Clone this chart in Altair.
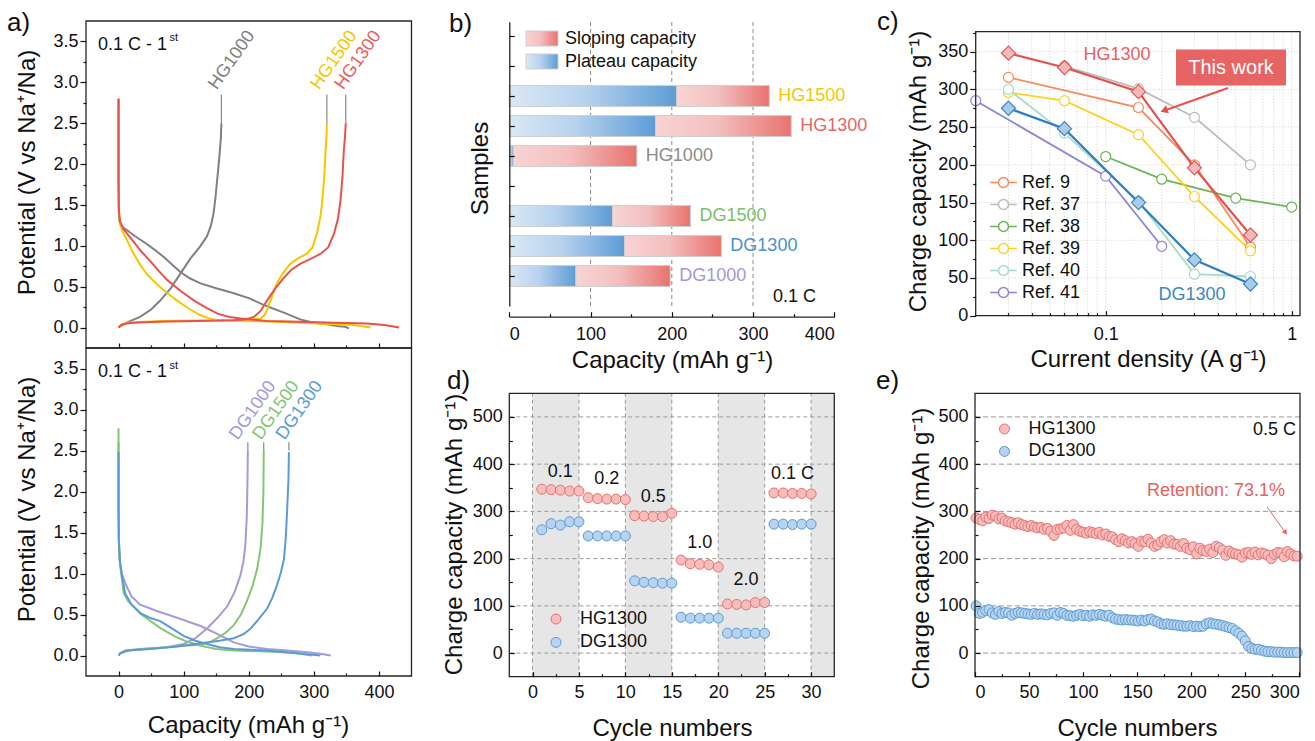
import altair as alt
import pandas as pd

W, H = 1315, 741
FONT = "Liberation Sans"
INK = "#111111"
FRAME = "#262626"

RED = "#e8514c"
YELLOW = "#f7c600"
GREY = "#808080"
BLUE = "#5b9bd5"
GREEN = "#84c674"
LAV = "#a39cdb"

# ---------------- Panel a: first-cycle profiles (capacity mAh/g, potential V) ----------------
hg1000_dis_cap = [0, 0, 0.5, 2, 6, 13, 25, 40, 54, 70, 85, 95, 110, 126, 150, 177, 200, 228, 255, 279, 300, 320, 335, 348, 354]
hg1000_dis_v = [2.8, 1.8, 1.4, 1.28, 1.23, 1.19, 1.12, 1.04, 0.96, 0.86, 0.75, 0.68, 0.6, 0.54, 0.48, 0.42, 0.36, 0.26, 0.18, 0.1, 0.06, 0.04, 0.02, 0.01, -0.01]
hg1000_chg_cap = [0, 5, 15, 33, 50, 64, 80, 95, 110, 126, 136, 142, 146, 149, 152, 155, 157, 158]
hg1000_chg_v = [0, 0.03, 0.07, 0.13, 0.22, 0.33, 0.48, 0.66, 0.84, 1.0, 1.12, 1.25, 1.4, 1.6, 1.85, 2.1, 2.3, 2.5]

hg1500_dis_cap = [0, 0, 0.5, 2, 6, 13, 22, 33, 45, 59, 75, 90, 108, 126, 140, 151, 177, 228, 279, 331, 360, 387]
hg1500_dis_v = [2.8, 1.8, 1.4, 1.28, 1.18, 1.07, 0.92, 0.77, 0.64, 0.53, 0.42, 0.33, 0.23, 0.15, 0.11, 0.09, 0.085, 0.075, 0.06, 0.04, 0.03, 0.0]
hg1500_chg_cap = [0, 4, 13, 40, 69, 120, 177, 205, 218, 224, 228, 235, 243, 252, 264, 276, 289, 298, 305, 310, 313, 316, 318, 319.5, 320]
hg1500_chg_v = [0, 0.04, 0.06, 0.07, 0.08, 0.085, 0.09, 0.1, 0.11, 0.15, 0.21, 0.36, 0.54, 0.66, 0.78, 0.85, 0.9, 0.98, 1.16, 1.35, 1.55, 1.85, 2.16, 2.35, 2.5]

hg1300_dis_cap = [0, 0, 0.5, 2, 8, 23, 35, 49, 62, 75, 95, 116, 135, 152, 170, 188, 228, 280, 331, 382, 408, 420, 431]
hg1300_dis_v = [2.8, 1.8, 1.45, 1.3, 1.2, 1.05, 0.93, 0.81, 0.69, 0.58, 0.45, 0.33, 0.24, 0.17, 0.13, 0.11, 0.08, 0.07, 0.06, 0.05, 0.03, 0.015, 0.0]
hg1300_chg_cap = [0, 4, 12, 23, 60, 120, 177, 195, 208, 218, 228, 240, 254, 266, 279, 295, 310, 322, 331, 337, 341, 344, 346, 348, 349]
hg1300_chg_v = [0, 0.03, 0.05, 0.06, 0.07, 0.08, 0.09, 0.1, 0.13, 0.2, 0.33, 0.47, 0.61, 0.71, 0.78, 0.84, 0.9, 0.98, 1.15, 1.33, 1.56, 1.85, 2.16, 2.35, 2.5]

dg1000_dis_cap = [0, 0, 0.5, 2, 5, 12, 20, 33, 60, 90, 126, 150, 177, 200, 228, 260, 290, 310, 326]
dg1000_dis_v = [2.6, 1.8, 1.4, 1.15, 1.0, 0.85, 0.72, 0.62, 0.54, 0.46, 0.36, 0.27, 0.16, 0.11, 0.08, 0.06, 0.04, 0.02, 0.0]
dg1000_chg_cap = [0, 3, 10, 33, 74, 100, 118, 136, 152, 167, 178, 187, 192, 195, 197, 198, 198.6]
dg1000_chg_v = [0, 0.03, 0.06, 0.08, 0.1, 0.14, 0.21, 0.33, 0.46, 0.6, 0.77, 0.97, 1.15, 1.37, 1.7, 2.1, 2.5]

dg1500_dis_cap = [0, 0, 0.5, 2, 4, 8, 15, 23, 35, 49, 65, 85, 105, 126, 150, 177, 228, 270, 297]
dg1500_dis_v = [2.77, 1.8, 1.4, 1.15, 1.0, 0.76, 0.66, 0.6, 0.5, 0.42, 0.33, 0.24, 0.17, 0.12, 0.08, 0.06, 0.05, 0.03, 0.0]
dg1500_chg_cap = [0, 3, 13, 40, 74, 100, 126, 140, 151, 165, 177, 188, 197, 206, 213, 218, 221, 222.5, 223]
dg1500_chg_v = [0, 0.03, 0.06, 0.08, 0.1, 0.12, 0.13, 0.16, 0.21, 0.28, 0.37, 0.5, 0.66, 0.85, 1.06, 1.3, 1.6, 2.0, 2.5]

dg1300_dis_cap = [0, 0, 0.5, 2, 4, 10, 20, 33, 48, 64, 80, 100, 118, 136, 155, 177, 228, 270, 310]
dg1300_dis_v = [2.48, 1.8, 1.4, 1.15, 1.04, 0.76, 0.62, 0.52, 0.46, 0.42, 0.34, 0.24, 0.18, 0.14, 0.1, 0.08, 0.06, 0.03, 0.0]
dg1300_chg_cap = [0, 3, 15, 49, 90, 126, 155, 177, 192, 203, 215, 228, 236, 243, 249, 254, 257, 259, 261, 261.7]
dg1300_chg_v = [0, 0.03, 0.06, 0.08, 0.11, 0.15, 0.18, 0.21, 0.26, 0.33, 0.44, 0.57, 0.7, 0.85, 1.0, 1.17, 1.45, 1.78, 2.15, 2.48]

a_top_names = ["HG1000", "HG1500", "HG1300"]
a_top_colors = [GREY, YELLOW, "#e8615d"]
a_top_text_cap = [151, 308, 345]
a_bot_names = ["DG1000", "DG1500", "DG1300"]
a_bot_colors = [LAV, GREEN, BLUE]
a_bot_text_cap = [183, 219, 255]

# ---------------- Panel b: capacity split ----------------
b_samples = ["HG1500", "HG1300", "HG1000", "DG1500", "DG1300", "DG1000"]
b_pos = [7, 6, 5, 3, 2, 1]
b_plateau = [206, 180, 5, 127, 142, 82]
b_total = [320, 347, 157, 223, 261, 198]
b_colors = ["#f7c600", "#ec6464", "#8c8c8c", "#7dbf6a", "#4a90d0", "#a09ad8"]

# ---------------- Panel c: rate comparison ----------------
c_rates = [0.03, 0.06, 0.15, 0.3, 0.6]
c_hg1300 = [348, 329, 297, 196, 107]
c_dg1300 = [275, 248, 150, 74, 42]
ref_names = ["Ref. 9", "Ref. 37", "Ref. 38", "Ref. 39", "Ref. 40", "Ref. 41"]
ref_colors = ["#f58a5f", "#bdbdbd", "#6cb552", "#ffd21f", "#a6dcc3", "#8f85d6"]
ref9_x = [0.03, 0.15, 0.3, 0.6]
ref9_y = [316, 276, 200, 91]
ref37_x = [0.06, 0.15, 0.3, 0.6]
ref37_y = [331, 301, 263, 200]
ref38_x = [0.1, 0.2, 0.5, 1.0]
ref38_y = [211, 181, 156, 144]
ref39_x = [0.03, 0.06, 0.15, 0.3, 0.6]
ref39_y = [296, 285, 240, 158, 86]
ref40_x = [0.03, 0.06, 0.15, 0.3, 0.6]
ref40_y = [300, 242, 152, 55, 52]
ref41_x = [0.02, 0.1, 0.2]
ref41_y = [285, 185, 92]

# ---------------- Panel d: rate capability ----------------
d_cycles = list(range(1, 31))
d_hg1300 = [347, 346, 345, 343, 343, 329, 327, 326, 326, 325,
            291, 290, 289, 289, 296, 197, 189, 188, 187, 182,
            104, 103, 102, 107, 107, 339, 339, 338, 338, 337]
d_dg1300 = [261, 274, 271, 278, 278, 248, 248, 248, 248, 248,
            153, 150, 149, 148, 148, 76, 74, 74, 74, 74,
            42, 42, 42, 42, 42, 273, 273, 272, 273, 273]
d_rate_labels = ["0.1", "0.2", "0.5", "1.0", "2.0", "0.1 C"]

# ---------------- Panel e: cycling at 0.5 C ----------------
e_cycles = list(range(1, 300, 3))
e_hg1300 = [286, 283, 280, 288, 285, 292, 290, 284, 286, 280,
            278, 276, 273, 276, 272, 270, 268, 270, 267, 265,
            266, 262, 264, 258, 249, 262, 263, 265, 270, 260,
            272, 262, 258, 256, 254, 257, 255, 253, 256, 250,
            252, 247, 246, 240, 236, 242, 238, 233, 236, 232,
            226, 237, 236, 241, 233, 226, 229, 236, 240, 233,
            238, 231, 230, 226, 232, 222, 219, 225, 210, 222,
            217, 215, 220, 213, 226, 223, 218, 207, 216, 212,
            210, 208, 203, 212, 213, 209, 214, 208, 212, 210,
            207, 200, 209, 213, 212, 204, 215, 210, 206, 205]
e_dg1300 = [100, 84, 86, 90, 92, 85, 82, 88, 84, 86,
            85, 80, 84, 86, 85, 84, 83, 82, 84, 82,
            83, 82, 81, 84, 85, 80, 86, 84, 80, 79,
            78, 80, 82, 79, 80, 78, 81, 80, 82, 80,
            78, 80, 75, 72, 71, 70, 71, 70, 70, 69,
            68, 70, 68, 71, 72, 68, 66, 62, 61, 62,
            60, 60, 59, 58, 57, 57, 58, 56, 57, 56,
            57, 62, 64, 62, 61, 60, 58, 56, 54, 52,
            47, 42, 36, 26, 14, 10, 8, 8, 6, 4,
            3, 3, 2, 2, 2, 1, 1, 1, 1, 1]

SERIES = ["HG1300", "DG1300"]
PT_FILL = ["#f7bcbc", "#b6d3ef"]
PT_STROKE = ["#e8716f", "#5b9bd5"]

ONE = pd.DataFrame({"k": [0]})


class Panel:
    def __init__(self, xdom, xrng, ydom, yrng, xtype="linear"):
        self.xdom, self.xrng, self.ydom, self.yrng, self.xtype = xdom, xrng, ydom, yrng, xtype

    def xs(self):
        if self.xtype == "log":
            return alt.Scale(type="log", domain=self.xdom, range=self.xrng, nice=False)
        return alt.Scale(type="linear", domain=self.xdom, range=self.xrng, nice=False, zero=False)

    def ys(self):
        return alt.Scale(type="linear", domain=self.ydom, range=self.yrng, nice=False, zero=False)

    def X(self, f):
        return alt.X(f, type="quantitative", scale=self.xs(), axis=None)

    def Y(self, f):
        return alt.Y(f, type="quantitative", scale=self.ys(), axis=None)


def axis_layer(p, ch, orient, at, values, **kw):
    off = {"bottom": at - H, "top": -at, "left": -at, "right": at - W}[orient]
    ax = alt.Axis(orient=orient, offset=off, values=values, grid=False, **kw)
    df = pd.DataFrame({"v": [values[0]]})
    if ch == "x":
        enc = dict(x=alt.X("v", type="quantitative", scale=p.xs(), axis=ax), y=alt.value(0))
    else:
        enc = dict(y=alt.Y("v", type="quantitative", scale=p.ys(), axis=ax), x=alt.value(0))
    return alt.Chart(df).mark_point(opacity=0).encode(**enc)


def tick_axis(p, ch, orient, at, values, size):
    return axis_layer(p, ch, orient, at, values, labels=False, domain=False, ticks=True,
                      tickSize=size, tickWidth=1.2, tickColor=INK, title=None, zindex=2)


def label_axis(p, ch, orient, at, values, pad, title=None, tx=0, ty=0, fmt=None,
               domain=False, tick_out=0, show_labels=True):
    kw = dict(labels=show_labels, labelPadding=pad, labelFont=FONT, labelFontSize=18,
              labelColor=INK, domain=domain, zindex=2, labelOverlap=False)
    if tick_out:
        kw.update(ticks=True, tickSize=tick_out, tickWidth=1.2, tickColor=INK)
    else:
        kw.update(ticks=False, tickSize=0)
    if domain:
        kw.update(domainColor=FRAME, domainWidth=1.3)
    if fmt:
        kw["format"] = fmt
    if title:
        kw.update(title=title, titleX=tx, titleY=ty, titleFont=FONT, titleFontSize=24,
                  titleFontWeight="normal", titleColor=INK, titleAlign="center",
                  titleBaseline="middle", titleAngle=(270 if ch == "y" else 0))
    else:
        kw["title"] = None
    return axis_layer(p, ch, orient, at, values, **kw)


def frame(p):
    df = pd.DataFrame({"x1": [p.xdom[0]], "x2": [p.xdom[1]], "y1": [p.ydom[0]], "y2": [p.ydom[1]]})
    return alt.Chart(df).mark_rect(fillOpacity=0, stroke=FRAME, strokeWidth=1.3).encode(
        x=p.X("x1"), x2="x2", y=p.Y("y1"), y2="y2")


def vgrid(p, vals, color, dash, width=1.0):
    df = pd.DataFrame({"v": vals, "y1": [p.ydom[0]] * len(vals), "y2": [p.ydom[1]] * len(vals)})
    return alt.Chart(df).mark_rule(color=color, strokeDash=dash, strokeWidth=width).encode(
        x=p.X("v"), y=p.Y("y1"), y2="y2")


def hgrid(p, vals, color, dash, width=1.0):
    df = pd.DataFrame({"v": vals, "x1": [p.xdom[0]] * len(vals), "x2": [p.xdom[1]] * len(vals)})
    return alt.Chart(df).mark_rule(color=color, strokeDash=dash, strokeWidth=width).encode(
        y=p.Y("v"), x=p.X("x1"), x2="x2")


def curve(p, xs, ys, color, width=2.0):
    df = pd.DataFrame({"x": xs, "y": ys, "i": list(range(len(xs)))})
    return alt.Chart(df).mark_line(color=color, strokeWidth=width).encode(
        x=p.X("x"), y=p.Y("y"), order=alt.Order("i:Q"))


def ptext(s, x, y, size=18, color=INK, align="left", baseline="alphabetic", angle=None):
    kw = dict(text=s, font=FONT, fontSize=size, color=color, align=align, baseline=baseline)
    if angle is not None:
        kw["angle"] = angle
    return alt.Chart(ONE).mark_text(**kw).encode(x=alt.value(x), y=alt.value(y))


def dtext(p, xs, ys, texts, color, size=18, **mk):
    df = pd.DataFrame({"x": xs, "y": ys, "t": texts})
    return alt.Chart(df).mark_text(font=FONT, fontSize=size, color=color, **mk).encode(
        x=p.X("x"), y=p.Y("y"), text="t:N")


def panel(*ls):
    return alt.layer(*ls).resolve_axis(x="independent", y="independent")


# ======================= Panel a =======================
PA1 = Panel([-50, 450], [86, 411.5], [-0.25, 3.75], [348, 21])
PA2 = Panel([-50, 450], [86, 411.5], [-0.25, 3.75], [676, 348])
yvals_a = [0, 0.5, 1.0, 1.5, 2.0, 2.5, 3.0, 3.5]
yminor_a = [0.25, 0.75, 1.25, 1.75, 2.25, 2.75, 3.25]
xvals_a = [0, 100, 200, 300, 400]
xminor_a = [50, 150, 250, 350]
top_ends = [hg1000_chg_cap[-1], hg1500_chg_cap[-1], hg1300_chg_cap[-1]]
bot_ends = [dg1000_chg_cap[-1], dg1500_chg_cap[-1], dg1300_chg_cap[-1]]

a1_layers = [
    curve(PA1, hg1000_dis_cap, hg1000_dis_v, GREY), curve(PA1, hg1000_chg_cap, hg1000_chg_v, GREY),
    curve(PA1, hg1500_dis_cap, hg1500_dis_v, YELLOW), curve(PA1, hg1500_chg_cap, hg1500_chg_v, YELLOW),
    curve(PA1, hg1300_dis_cap, hg1300_dis_v, RED), curve(PA1, hg1300_chg_cap, hg1300_chg_v, RED),
    alt.Chart(pd.DataFrame({"c": top_ends, "y1": [2.5] * 3, "y2": [2.85] * 3})).mark_rule(
        color="#8a8a8a", strokeWidth=1.2).encode(x=PA1.X("c"), y=PA1.Y("y1"), y2="y2"),
]
for n, c, xc in zip(a_top_names, a_top_colors, a_top_text_cap):
    a1_layers.append(dtext(PA1, [xc], [2.9], [n], c, align="left", baseline="alphabetic", angle=305))
a1_layers += [
    ptext("0.1 C - 1", 98, 50), ptext("st", 169.5, 41, size=11),
    frame(PA1),
    label_axis(PA1, "y", "left", 86, yvals_a, 2, title="Potential (V vs Na\u207a/Na)", tx=-59, ty=172,
               fmt=".1f", tick_out=6),
    tick_axis(PA1, "y", "left", 86, yminor_a, 3),
    tick_axis(PA1, "x", "top", 348, xvals_a, 5),
    tick_axis(PA1, "x", "top", 348, xminor_a, 3),
]

a2_layers = [
    curve(PA2, dg1000_dis_cap, dg1000_dis_v, LAV), curve(PA2, dg1000_chg_cap, dg1000_chg_v, LAV),
    curve(PA2, dg1500_dis_cap, dg1500_dis_v, GREEN), curve(PA2, dg1500_chg_cap, dg1500_chg_v, GREEN),
    curve(PA2, dg1300_dis_cap, dg1300_dis_v, BLUE), curve(PA2, dg1300_chg_cap, dg1300_chg_v, BLUE),
    alt.Chart(pd.DataFrame({"c": bot_ends, "y1": [2.5] * 3, "y2": [2.6] * 3})).mark_rule(
        color="#8a8a8a", strokeWidth=1.2).encode(x=PA2.X("c"), y=PA2.Y("y1"), y2="y2"),
]
for n, c, xc in zip(a_bot_names, a_bot_colors, a_bot_text_cap):
    a2_layers.append(dtext(PA2, [xc], [2.62], [n], c, align="left", baseline="alphabetic", angle=305))
a2_layers += [
    ptext("0.1 C - 1", 98, 377), ptext("st", 169.5, 368.5, size=11),
    frame(PA2),
    label_axis(PA2, "y", "left", 86, yvals_a, 2, title="Potential (V vs Na\u207a/Na)", tx=-59, ty=499,
               fmt=".1f", tick_out=6),
    tick_axis(PA2, "y", "left", 86, yminor_a, 3),
    tick_axis(PA2, "x", "top", 676, xvals_a, 5),
    tick_axis(PA2, "x", "top", 676, xminor_a, 3),
    label_axis(PA2, "x", "bottom", 676, xvals_a, 7, title="Capacity (mAh g\u207b\u00b9)", tx=248, ty=49),
]

# ======================= Panel b =======================
PB = Panel([0, 400], [509.3, 834.3], [0, 9.48], [306, 21.7])
b_df = pd.DataFrame({"s": b_samples, "pos": b_pos, "plateau": b_plateau, "total": b_total, "zero": [0] * 6})
blue_grad = alt.LinearGradient(gradient="linear", x1=0, x2=1, y1=0, y2=0, stops=[
    alt.GradientStop(color="#d9e8f6", offset=0), alt.GradientStop(color="#b7d2ed", offset=0.45),
    alt.GradientStop(color="#5d9cd6", offset=1)])
red_grad = alt.LinearGradient(gradient="linear", x1=0, x2=1, y1=0, y2=0, stops=[
    alt.GradientStop(color="#f8d4d4", offset=0), alt.GradientStop(color="#f3bfbf", offset=0.45),
    alt.GradientStop(color="#e8736f", offset=1)])
b_base = alt.Chart(b_df).transform_calculate(lo="datum.pos - 0.35", hi="datum.pos + 0.35")
b_layers = [
    vgrid(PB, [100, 200, 300], "#8a8a8a", [4, 3]),
    b_base.mark_rect(fill=blue_grad, stroke="#cfcfcf", strokeWidth=1).encode(
        x=PB.X("zero"), x2="plateau", y=PB.Y("lo"), y2="hi"),
    b_base.mark_rect(fill=red_grad, stroke="#cfcfcf", strokeWidth=1).encode(
        x=PB.X("plateau"), x2="total", y=PB.Y("lo"), y2="hi"),
]
for s, pos, tot, col in zip(b_samples, b_pos, b_total, b_colors):
    b_layers.append(dtext(PB, [tot], [pos], [s], col, align="left", baseline="middle", dx=9))
b_layers += [
    alt.Chart(ONE).mark_rect(fill=red_grad, stroke="#cfcfcf", strokeWidth=1).encode(
        x=alt.value(526), x2=alt.value(558), y=alt.value(31), y2=alt.value(46)),
    alt.Chart(ONE).mark_rect(fill=blue_grad, stroke="#cfcfcf", strokeWidth=1).encode(
        x=alt.value(526), x2=alt.value(558), y=alt.value(54), y2=alt.value(69)),
    ptext("Sloping capacity", 565, 39, baseline="middle"),
    ptext("Plateau capacity", 565, 62, baseline="middle"),
    ptext("0.1 C", 816, 302, align="right"),
    label_axis(PB, "y", "left", 509.3, [1, 2, 3, 4, 5, 6, 7, 8, 9], 0, title="Samples", tx=-29, ty=168,
               domain=True, show_labels=False),
    tick_axis(PB, "y", "right", 509.3, [1, 2, 3, 4, 5, 6, 7, 8, 9], 5),
    label_axis(PB, "x", "bottom", 316.7, [0, 100, 200, 300, 400], 9, title="Capacity (mAh g\u207b\u00b9)",
               tx=672, ty=44, domain=True),
    tick_axis(PB, "x", "top", 316.7, [0, 100, 200, 300, 400], 5),
    tick_axis(PB, "x", "top", 316.7, [50, 150, 250, 350], 3),
]

# ======================= Panel c =======================
PC = Panel([0.02, 1.108], [975.7, 1300], [0, 376.5], [315.7, 31.7], xtype="log")
ref_xs = [ref9_x, ref37_x, ref38_x, ref39_x, ref40_x, ref41_x]
ref_ys = [ref9_y, ref37_y, ref38_y, ref39_y, ref40_y, ref41_y]
rows = []
for name, xs, ys in zip(ref_names, ref_xs, ref_ys):
    for i, (x, y) in enumerate(zip(xs, ys)):
        rows.append({"ref": name, "x": x, "y": y, "i": i})
ref_df = pd.DataFrame(rows)
ref_scale = alt.Scale(domain=ref_names, range=ref_colors)
LEG_PATH = "M-2.67,0L-1,0M1,0L2.67,0M1,0A1,1,0,1,1,-1,0A1,1,0,1,1,1,0Z"
c_legend = alt.Legend(orient="none", legendX=994.5, legendY=173.5, title=None, padding=0,
                      symbolType=LEG_PATH, symbolSize=100, symbolStrokeWidth=1.5,
                      symbolFillColor="white", labelFont=FONT, labelFontSize=18, labelColor=INK,
                      labelOffset=9.5, rowPadding=4)
c_minor = [0.03, 0.04, 0.05, 0.06, 0.07, 0.08, 0.09, 0.2, 0.3, 0.4, 0.5, 0.6, 0.7, 0.8, 0.9]
hg_c = pd.DataFrame({"x": c_rates, "y": c_hg1300})
dg_c = pd.DataFrame({"x": c_rates, "y": c_dg1300})
c_layers = [
    vgrid(PC, c_minor + [0.1, 1.0], "#cfcfcf", [1, 2]),
    hgrid(PC, [50, 100, 150, 200, 250, 300, 350], "#cfcfcf", [1, 2]),
]
for xs, ys, col in zip(ref_xs, ref_ys, ref_colors):
    c_layers.append(curve(PC, xs, ys, col, width=1.8))
c_layers += [
    alt.Chart(ref_df).mark_point(shape="circle", filled=True, fill="white", size=100, strokeWidth=1.2,
                                 opacity=1).encode(
        x=PC.X("x"), y=PC.Y("y"), stroke=alt.Stroke("ref:N", scale=ref_scale, legend=c_legend)),
    alt.Chart(dg_c).mark_line(color="#2f7cc4", strokeWidth=2.2).encode(x=PC.X("x"), y=PC.Y("y")),
    alt.Chart(dg_c).mark_point(shape="diamond", filled=True, fill="#a9cbea", stroke="#3d85c6",
                               strokeWidth=1.2, size=200, opacity=1).encode(x=PC.X("x"), y=PC.Y("y")),
    alt.Chart(hg_c).mark_line(color="#e6504b", strokeWidth=2.2).encode(x=PC.X("x"), y=PC.Y("y")),
    alt.Chart(hg_c).mark_point(shape="diamond", filled=True, fill="#f4b9b9", stroke="#e05a5a",
                               strokeWidth=1.2, size=200, opacity=1).encode(x=PC.X("x"), y=PC.Y("y")),
    ptext("HG1300", 1117, 60, color="#e8615d", align="center"),
    ptext("DG1300", 1192, 300, color="#3d85c6", align="center"),
    alt.Chart(ONE).mark_rect(fill="#e66464").encode(
        x=alt.value(1176), x2=alt.value(1286), y=alt.value(49.5), y2=alt.value(85.5)),
    ptext("This work", 1231, 67.5, size=20, color="white", align="center", baseline="middle"),
    alt.Chart(ONE).mark_rule(color="#e8514c", strokeWidth=2).encode(
        x=alt.value(1228), y=alt.value(88), x2=alt.value(1166), y2=alt.value(110)),
    alt.Chart(ONE).mark_point(shape="triangle-up", filled=True, color="#e8514c", size=70, angle=250,
                              opacity=1).encode(x=alt.value(1164), y=alt.value(110.5)),
    frame(PC),
    label_axis(PC, "y", "left", 975.7, [0, 50, 100, 150, 200, 250, 300, 350], 2,
               title="Charge capacity (mAh g\u207b\u00b9)", tx=-57, ty=171, tick_out=6),
    tick_axis(PC, "y", "left", 975.7, [25, 75, 125, 175, 225, 275, 325, 375], 3),
    tick_axis(PC, "x", "top", 315.7, [0.1, 1.0], 5),
    tick_axis(PC, "x", "top", 315.7, c_minor, 3),
    label_axis(PC, "x", "bottom", 315.7, [0.1, 1.0], 10, title="Current density (A g\u207b\u00b9)",
               tx=1148, ty=44, fmt="~g"),
]

# ======================= Panel d =======================
PD = Panel([-2.5, 32.5], [509.3, 834.3], [-50, 550], [676.7, 393.3])
d_band_lo = [0, 10, 20, 30]
d_band_hi = [5, 15, 25, 32.5]
band_df = pd.DataFrame({"lo": d_band_lo, "hi": d_band_hi, "y1": [-50] * 4, "y2": [550] * 4})
d_df = pd.DataFrame({
    "cycle": d_cycles + d_cycles,
    "cap": d_hg1300 + d_dg1300,
    "series": ["HG1300"] * len(d_cycles) + ["DG1300"] * len(d_cycles),
})


def pt_legend(lx, ly, rp):
    return alt.Legend(orient="none", legendX=lx, legendY=ly, title=None, padding=0,
                      symbolType="circle", symbolSize=100, symbolStrokeWidth=1,
                      labelFont=FONT, labelFontSize=18, labelColor=INK, labelOffset=15, rowPadding=rp)


def pts(p, df, leg):
    return alt.Chart(df).mark_point(shape="circle", filled=True, size=100, strokeWidth=1, opacity=1).encode(
        x=p.X("cycle"), y=p.Y("cap"),
        fill=alt.Fill("series:N", scale=alt.Scale(domain=SERIES, range=PT_FILL), legend=leg),
        stroke=alt.Stroke("series:N", scale=alt.Scale(domain=SERIES, range=PT_STROKE), legend=leg),
        order=alt.Order("cycle:Q"))


d_label_x = [3, 8, 13, 18, 23, 28]
d_label_y = [384, 368, 331, 234, 155, 379]
d_layers = [
    alt.Chart(band_df).mark_rect(color="#e6e6e6").encode(x=PD.X("lo"), x2="hi", y=PD.Y("y1"), y2="y2"),
    vgrid(PD, [0, 5, 10, 15, 20, 25, 30], "#9a9a9a", [4, 3]),
    hgrid(PD, [0, 100, 200, 300, 400, 500], "#9a9a9a", [4, 3]),
    pts(PD, d_df, pt_legend(547, 610, 5.4)),
    dtext(PD, d_label_x, d_label_y, d_rate_labels, INK, align="center", baseline="middle"),
    frame(PD),
    label_axis(PD, "y", "left", 509.3, [0, 100, 200, 300, 400, 500], 7,
               title="Charge capacity (mAh g\u207b\u00b9)", tx=-55, ty=534),
    tick_axis(PD, "y", "right", 509.3, [0, 100, 200, 300, 400, 500], 5),
    tick_axis(PD, "y", "right", 509.3, [50, 150, 250, 350, 450], 3),
    tick_axis(PD, "x", "top", 676.7, [0, 5, 10, 15, 20, 25, 30], 5),
    tick_axis(PD, "x", "top", 676.7, [2.5, 7.5, 12.5, 17.5, 22.5, 27.5], 3),
    label_axis(PD, "x", "bottom", 676.7, [0, 5, 10, 15, 20, 25, 30], 7, title="Cycle numbers",
               tx=672, ty=52),
]

# ======================= Panel e =======================
PE = Panel([0, 300.6], [975, 1300], [-50, 550], [676.7, 393.3])
e_df = pd.DataFrame({
    "cycle": e_cycles + e_cycles,
    "cap": e_hg1300 + e_dg1300,
    "series": ["HG1300"] * len(e_cycles) + ["DG1300"] * len(e_cycles),
})
e_layers = [
    hgrid(PE, [0, 100, 200, 300, 400, 500], "#9a9a9a", [5, 3]),
    pts(PE, e_df, pt_legend(995.5, 420, 4.4)),
    ptext("0.5 C", 1296, 435, align="right"),
    ptext("Retention: 73.1%", 1147, 496, color="#e8615d"),
    alt.Chart(ONE).mark_rule(color="#e8615d", strokeWidth=1).encode(
        x=alt.value(1267), y=alt.value(507), x2=alt.value(1285), y2=alt.value(532)),
    alt.Chart(ONE).mark_point(shape="triangle-up", filled=True, color="#e8615d", size=30, angle=144,
                              opacity=1).encode(x=alt.value(1285.5), y=alt.value(532.5)),
    frame(PE),
    label_axis(PE, "y", "left", 975, [0, 100, 200, 300, 400, 500], 7,
               title="Charge capacity (mAh g\u207b\u00b9)", tx=-54, ty=548),
    tick_axis(PE, "y", "right", 975, [0, 100, 200, 300, 400, 500], 5),
    tick_axis(PE, "y", "right", 975, [50, 150, 250, 350, 450], 3),
    tick_axis(PE, "x", "top", 676.7, [0, 50, 100, 150, 200, 250, 300], 5),
    tick_axis(PE, "x", "top", 676.7, [25, 75, 125, 175, 225, 275], 3),
    label_axis(PE, "x", "bottom", 676.7, [0, 50, 100, 150, 200, 250, 300], 7, title="Cycle numbers",
               tx=1137, ty=52),
]

# ======================= panel letters =======================
letters = [ptext("a)", 7, 31, size=26), ptext("b)", 449, 32, size=26), ptext("c)", 877, 30, size=26),
           ptext("d)", 447, 389, size=26), ptext("e)", 876, 389, size=26)]

chart = alt.layer(
    panel(*a1_layers), panel(*a2_layers), panel(*b_layers), panel(*c_layers),
    panel(*d_layers), panel(*e_layers), *letters,
).resolve_scale(
    x="independent", y="independent", stroke="independent", fill="independent"
).resolve_axis(
    x="independent", y="independent"
).properties(
    width=W, height=H, autosize=alt.AutoSizeParams(type="none"), padding=0, background="white"
).configure_view(strokeOpacity=0).configure_text(font=FONT)

chart.save("out.html", embed_options={"renderer": "svg", "actions": False})
